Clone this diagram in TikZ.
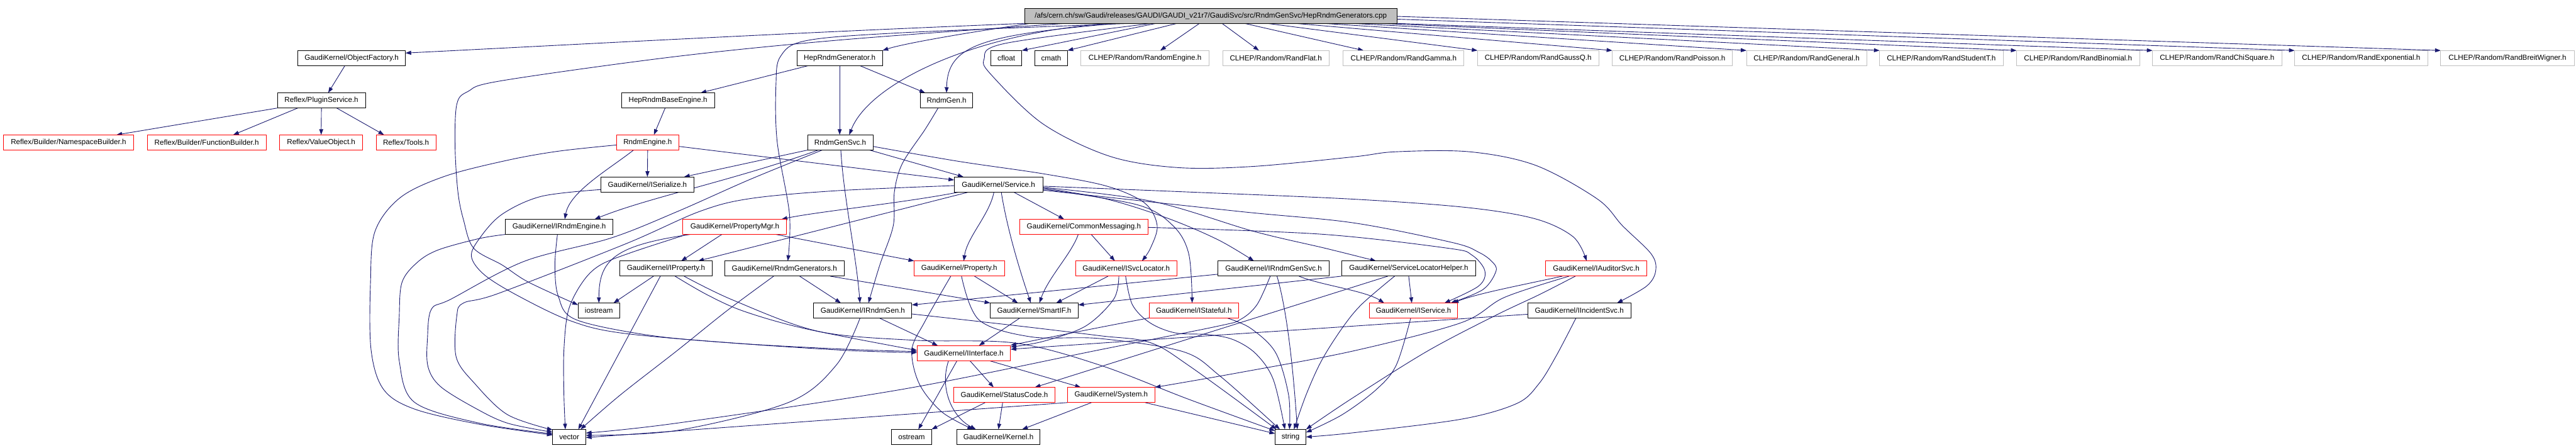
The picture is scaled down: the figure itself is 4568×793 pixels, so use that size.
\documentclass[tikz,border=0pt]{standalone}
\usepackage{fontspec}
\newfontfamily\lsans{Liberation Sans}
\usetikzlibrary{arrows.meta}
\definecolor{edgec}{HTML}{191970}
\definecolor{grayb}{HTML}{BFBFBF}
\definecolor{redb}{HTML}{FF0000}
\pgfdeclarelayer{bg}
\pgfsetlayers{bg,main}
\tikzset{
  nb/.style={draw=black, line width=1pt, minimum height=27pt, inner sep=0pt, outer sep=0pt,
             fill=white, font={\lsans\fontsize{13}{15}\selectfont}},
  nr/.style={nb, draw=redb},
  ng/.style={nb, draw=grayb},
  ed/.style={draw=edgec, line width=1pt, -{Triangle[length=10pt,width=7pt]}},
  sm/.style={smooth, tension=0.55}
}
\begin{document}
\begin{tikzpicture}[x=1pt,y=-1pt]
\useasboundingbox (0,0) rectangle (4568,793);
% ---------- nodes ----------
\node[nb, fill=grayb, minimum width=660pt] (root) at (2147,28) {/afs/cern.ch/sw/Gaudi/releases/GAUDI/GAUDI\_v21r7/GaudiSvc/src/RndmGenSvc/HepRndmGenerators.cpp};
% row 1
\node[nb, minimum width=191pt] (objf) at (623.5,103) {GaudiKernel/ObjectFactory.h};
\node[nb, minimum width=152pt] (heprg) at (1489,103) {HepRndmGenerator.h};
\node[nb, minimum width=55pt] (cfloat) at (1784.5,103) {cfloat};
\node[nb, minimum width=58pt] (cmath) at (1864,103) {cmath};
\node[ng, minimum width=227pt] (c1) at (2030.5,103) {CLHEP/Random/RandomEngine.h};
\node[ng, minimum width=189pt] (c2) at (2262.5,103) {CLHEP/Random/RandFlat.h};
\node[ng, minimum width=214pt] (c3) at (2489,103) {CLHEP/Random/RandGamma.h};
\node[ng, minimum width=215pt] (c4) at (2727.5,103) {CLHEP/Random/RandGaussQ.h};
\node[ng, minimum width=213pt] (c5) at (2965.5,103) {CLHEP/Random/RandPoisson.h};
\node[ng, minimum width=213pt] (c6) at (3203.5,103) {CLHEP/Random/RandGeneral.h};
\node[ng, minimum width=219pt] (c7) at (3442.5,103) {CLHEP/Random/RandStudentT.h};
\node[ng, minimum width=218pt] (c8) at (3685,103) {CLHEP/Random/RandBinomial.h};
\node[ng, minimum width=229pt] (c9) at (3931.5,103) {CLHEP/Random/RandChiSquare.h};
\node[ng, minimum width=236pt] (c10) at (4187,103) {CLHEP/Random/RandExponential.h};
\node[ng, minimum width=237pt] (c11) at (4446.5,103) {CLHEP/Random/RandBreitWigner.h};
% row 2
\node[nb, minimum width=156pt] (plugin) at (570,178) {Reflex/PluginService.h};
\node[nb, minimum width=165pt] (hepbase) at (1184.5,178) {HepRndmBaseEngine.h};
\node[nb, minimum width=93pt] (rndmgen) at (1678.5,178) {RndmGen.h};
% row 3
\node[nr, minimum width=231pt] (nsb) at (121.5,252.5) {Reflex/Builder/NamespaceBuilder.h};
\node[nr, minimum width=211pt] (fb) at (366.5,252.5) {Reflex/Builder/FunctionBuilder.h};
\node[nr, minimum width=147pt] (vo) at (569.5,252.5) {Reflex/ValueObject.h};
\node[nr, minimum width=106pt] (tools) at (720,252.5) {Reflex/Tools.h};
\node[nr, minimum width=111pt] (rengine) at (1148.5,252.5) {RndmEngine.h};
\node[nb, minimum width=116pt] (rgsvc) at (1490,252.5) {RndmGenSvc.h};
% row 4
\node[nb, minimum width=166pt] (iser) at (1148,327) {GaudiKernel/ISerialize.h};
\node[nb, minimum width=157pt] (service) at (1770.5,327) {GaudiKernel/Service.h};
% row 5
\node[nb, minimum width=191pt] (irengine) at (991.5,402) {GaudiKernel/IRndmEngine.h};
\node[nr, minimum width=184pt] (pmgr) at (1303,402) {GaudiKernel/PropertyMgr.h};
\node[nr, minimum width=228pt] (cmsg) at (1922,402) {GaudiKernel/CommonMessaging.h};
% row 6
\node[nb, minimum width=164pt] (iprop) at (1181,476) {GaudiKernel/IProperty.h};
\node[nb, minimum width=212pt] (rgens) at (1391,476) {GaudiKernel/RndmGenerators.h};
\node[nr, minimum width=160pt] (prop) at (1701,476) {GaudiKernel/Property.h};
\node[nr, minimum width=180pt] (isvcl) at (1997,476) {GaudiKernel/ISvcLocator.h};
\node[nb, minimum width=197pt] (irgsvc) at (2258.5,476) {GaudiKernel/IRndmGenSvc.h};
\node[nb, minimum width=238pt] (slh) at (2498,476) {GaudiKernel/ServiceLocatorHelper.h};
\node[nr, minimum width=179pt] (iaud) at (2830.5,476) {GaudiKernel/IAuditorSvc.h};
% row 7
\node[nb, minimum width=74pt] (iostream) at (1062,550.5) {iostream};
\node[nb, minimum width=174pt] (irgen) at (1530,550.5) {GaudiKernel/IRndmGen.h};
\node[nb, minimum width=156pt] (smartif) at (1834,550.5) {GaudiKernel/SmartIF.h};
\node[nr, minimum width=158pt] (istate) at (2117,550.5) {GaudiKernel/IStateful.h};
\node[nr, minimum width=157pt] (iservice) at (2506.5,550.5) {GaudiKernel/IService.h};
\node[nb, minimum width=183pt] (iinc) at (2800.5,550.5) {GaudiKernel/IIncidentSvc.h};
% row 8
\node[nr, minimum width=166pt] (iintf) at (1709,626) {GaudiKernel/IInterface.h};
% row 9
\node[nr, minimum width=180pt] (scode) at (1781,700) {GaudiKernel/StatusCode.h};
\node[nr, minimum width=155pt] (system) at (1970.5,700) {GaudiKernel/System.h};
% row 10
\node[nb, minimum width=59pt] (vector) at (1009.5,774.5) {vector};
\node[nb, minimum width=71pt] (ostream) at (1616.5,774.5) {ostream};
\node[nb, minimum width=147pt] (kernel) at (1770.5,774.5) {GaudiKernel/Kernel.h};
\node[nb, minimum width=55pt] (string) at (2288.5,774.5) {string};

\begin{pgfonlayer}{bg}
\fill[white] (0,0) rectangle (4568,793);
% ---------- root ----------
\draw[ed] (root.south west) .. controls (1400,58) and (1000,80) .. ([yshift=9]objf.east);
\draw[ed] ([xshift=-320]root.south) .. controls (1700,60) and (1600,78) .. (heprg.north east);
\draw[ed] ([xshift=-97]root.south) -- (cfloat.north east);
\draw[ed] ([xshift=-60]root.south) -- (cmath.north east);
\draw[ed] ([xshift=-20]root.south) -- ([xshift=27]c1.north);
\draw[ed] ([xshift=20]root.south) -- ([xshift=-30]c2.north);
\draw[ed] ([xshift=60]root.south) -- ([xshift=-71]c3.north);
\draw[ed] ([xshift=100]root.south) -- (c4.north west);
\draw[ed] ([xshift=150]root.south) -- (c5.north west);
\draw[ed] ([xshift=200]root.south) -- (c6.north west);
\draw[ed] ([xshift=250]root.south) -- (c7.north west);
\draw[ed] ([xshift=300]root.south) -- (c8.north west);
\draw[ed] (root.south east) -- (c9.north west);
\draw[ed] ([yshift=-6]root.east) -- (c10.north west);
\draw[ed] ([yshift=-1]root.east) -- (c11.north west);
\draw[ed] ([xshift=-182]root.south) .. controls (1720,60) and (1540,150) .. ([xshift=16]rgsvc.north);
\draw[ed] ([xshift=-166]root.south) .. controls (1740,62) and (1680,80) .. (rndmgen.north);
\draw[ed] plot[sm] coordinates {([xshift=-144]root.south) (1600,58) (1430,72) (1384,100) (1376,150) (1378,250) (1400,380) ([xshift=6]rgens.north)};
\draw[ed] plot[sm] coordinates {([xshift=-258]root.south) (1500,70) (1200,100) (890,143) (830,162) (810,185) (807,260) (812,340) (822,390) (840,440) (891,470) (937,500) ([yshift=10]iostream.west)};
\draw[ed] plot[sm] coordinates {([xshift=-105]root.south) (1782,77) (1745,105) (1760,135) (1850,220) (1968,277) (2088,297) (2222,295) (2400,278) (2475,269) (2606,269) (2723,293) (2833,353) (2877,400) (2928,450) (2936,480) (2920,507) ([xshift=67]iinc.north)};
% ---------- upper part ----------
\draw[ed] ([xshift=-12]objf.south) -- ([xshift=12]plugin.north);
\draw[ed] (plugin.south west) -- ([xshift=85]nsb.north);
\draw[ed] ([xshift=-42]plugin.south) -- ([xshift=47]fb.north);
\draw[ed] (plugin.south) -- (vo.north);
\draw[ed] ([xshift=27]plugin.south) -- ([xshift=-39]tools.north);
\draw[ed] ([xshift=-56]heprg.south) -- ([xshift=58]hepbase.north);
\draw[ed] (heprg.south) -- ([xshift=-1]rgsvc.north);
\draw[ed] ([xshift=36]heprg.south) -- ([xshift=-38]rndmgen.north);
\draw[ed] ([xshift=-5]hepbase.south) -- ([xshift=11]rengine.north);
\draw[ed] plot[sm] coordinates {([xshift=-15]rndmgen.south) (1640,230) (1600,290) (1586,340) (1584,400) (1560,470) ([xshift=10]irgen.north)};
% RndmEngine
\draw[ed] (rengine.south) -- (iser.north);
\draw[ed] ([xshift=-25]rengine.south) .. controls (1080,300) and (1010,340) .. ([xshift=10]irengine.north);
\draw[ed] ([yshift=-7]rengine.east) -- ([yshift=8]service.west);
\draw[ed] plot[sm] coordinates {([yshift=-4.5]rengine.west) (990,268) (900,284) (790,312) (710,350) (665,410) (657,500) (658,620) (680,690) (735,725) (850,752) ([yshift=3.5]vector.west)};
% ISerialize, IRndmEngine
\draw[ed] plot[sm] coordinates {([yshift=-9]iser.west) (960,348) (890,380) (850,423) (836,455) (860,488) (920,525) (1010,568) (1100,590) (1300,608) (1500,619) ([yshift=3]iintf.west)};
\draw[ed] plot[sm] coordinates {([xshift=-3]irengine.south) (984,470) (990,525) (1020,566) (1150,594) (1300,608) (1500,621) ([yshift=1]iintf.west)};
\draw[ed] plot[sm] coordinates {(irengine.south west) (849,423) (777,443) (740,465) (713,500) (708,560) (708,640) (735,713) (850,750) ([yshift=5.5]vector.west)};
% RndmGenSvc
\draw[ed] (rgsvc.south west) -- ([xshift=65]iser.north);
\draw[ed] ([xshift=-39]rgsvc.south) .. controls (1300,320) and (1150,350) .. ([xshift=63]irengine.north);
\draw[ed] plot[sm] coordinates {([xshift=-32]rgsvc.south) (1330,318) (1201,375) (1083,422) (930,463) (800,530) (765,548) (758,600) (759,650) (781,685) (842,723) (900,750) ([yshift=8.5]vector.west)};
\draw[ed] ([xshift=1]rgsvc.south) .. controls (1496,350) and (1518,450) .. ([xshift=-5]irgen.north);
\draw[ed] ([xshift=52]rgsvc.south) -- ([xshift=-62]service.north);
\draw[ed] plot[sm] coordinates {([yshift=-7]rgsvc.east) (1700,286) (1850,308) (1963,330) (2030,360) (2052,400) (2040,440) ([xshift=28]isvcl.north)};
% Service
\draw[ed] ([xshift=-70]service.south) .. controls (1600,360) and (1450,375) .. ([xshift=83]pmgr.north);
\draw[ed] ([xshift=-53]service.south) -- ([xshift=57]iprop.north);
\draw[ed] plot[sm] coordinates {([yshift=-2]service.west) (1484,338) (1330,352) (1240,375) (1110,432) (884,520) (822,537) (810,560) (809,633) (842,680) (900,735) ([yshift=12.5]vector.west)};
\draw[ed] ([xshift=27]service.south) -- ([xshift=-35]cmsg.north);
\draw[ed] ([xshift=-8]service.south) .. controls (1755,380) and (1715,420) .. ([xshift=8]prop.north);
\draw[ed] ([xshift=5]service.south) .. controls (1785,400) and (1805,470) .. ([xshift=-6]smartif.north);
\draw[ed] plot[sm] coordinates {([yshift=-6]service.east) (1963,353) (2071,387) (2160,425) ([xshift=-35]irgsvc.north)};
\draw[ed] plot[sm] coordinates {([yshift=-5]service.east) (2044,357) (2223,410) (2350,440) ([xshift=-58]slh.north)};
\draw[ed] plot[sm] coordinates {([yshift=-8]service.east) (2017,363) (2080,400) (2108,450) ([xshift=-3]istate.north)};
\draw[ed] plot[sm] coordinates {([yshift=-10]service.east) (2200,375) (2400,395) (2576,430) (2622,447) (2645,463) (2653,480) (2630,513) ([xshift=66]iservice.north)};
\draw[ed] plot[sm] coordinates {([yshift=-3]service.east) (2100,340) (2400,353) (2603,368) (2723,388) (2790,420) ([xshift=-17]iaud.north)};
% CommonMessaging
\draw[ed] ([xshift=-10]cmsg.south) .. controls (1900,450) and (1860,490) .. ([xshift=9]smartif.north);
\draw[ed] ([xshift=13]cmsg.south) -- ([xshift=-20]isvcl.north);
\draw[ed] plot[sm] coordinates {([yshift=-1]cmsg.east) (2342,415) (2568,440) (2610,452) (2633,480) (2622,507) ([xshift=55]iservice.north)};
% PropertyMgr
\draw[ed] ([xshift=-23]pmgr.south) -- ([xshift=27]iprop.north);
\draw[ed] ([xshift=73]pmgr.south) -- (prop.north west);
\draw[ed] ([xshift=-79]pmgr.south) .. controls (1090,435) and (1062,460) .. (iostream.north);
\draw[ed] plot[sm] coordinates {([xshift=-85]pmgr.south) (1121,447) (1064,470) (1033,500) (1008,550) (1000,620) (1000,700) ([xshift=-7]vector.north)};
% IProperty
\draw[ed] ([xshift=-22]iprop.south) -- ([xshift=26]iostream.north);
\draw[ed] ([xshift=-10]iprop.south) -- ([xshift=16]vector.north);
\draw[ed] plot[sm] coordinates {([xshift=16]iprop.south) (1255,523) (1320,552) (1430,583) ([yshift=5]iintf.west)};
\draw[ed] plot[sm] coordinates {([xshift=32]iprop.south) (1300,532) (1450,587) (1620,603) (1800,608) (1950,647) (2106,707) ([yshift=11]string.west)};
% RndmGenerators
\draw[ed] ([xshift=27]rgens.south) -- ([xshift=-39]irgen.north);
\draw[ed] ([xshift=81]rgens.south) -- (smartif.north west);
\draw[ed] plot[sm] coordinates {([xshift=-19]rgens.south) (1290,550) (1200,622) (1100,700) ([xshift=20]vector.north)};
% Property
\draw[ed] ([xshift=27]prop.south) -- ([xshift=-29]smartif.north);
\draw[ed] plot[sm] coordinates {([xshift=-15]prop.south) (1640,570) (1617,620) (1630,680) (1670,730) ([xshift=-45]kernel.north)};
\draw[ed] plot[sm] coordinates {([xshift=4]prop.south) (1736,567) (1828,597) (1950,600) (2097,623) (2164,667) ([xshift=-19]string.north)};
% ISvcLocator
\draw[ed] ([xshift=-32]isvcl.south) -- ([xshift=39]smartif.north);
\draw[ed] plot[sm] coordinates {([xshift=-13]isvcl.south) (1975,530) (1925,578) (1850,605) ([yshift=11]iintf.east)};
\draw[ed] plot[sm] coordinates {([xshift=-1]isvcl.south) (2008,540) (2039,572) (2084,590) (2142,593) (2187,602) (2227,627) (2258,673) ([xshift=-10]string.north)};
% IRndmGenSvc
\draw[ed] ([yshift=-10]irgsvc.west) -- ([yshift=10]irgen.east);
\draw[ed] ([xshift=45]irgsvc.south) .. controls (2340,505) and (2420,515) .. ([xshift=-52]iservice.north);
\draw[ed] ([xshift=6]irgsvc.south) .. controls (2285,560) and (2295,680) .. ([xshift=12]string.north);
\draw[ed] plot[sm] coordinates {([xshift=-6]irgsvc.south) (2229,540) (2200,566) (2160,578) (1950,620) (1600,690) (1200,750) ([yshift=7]vector.east)};
% ServiceLocatorHelper
\draw[ed] (slh.south west) -- ([yshift=10]smartif.east);
\draw[ed] (slh.south) -- ([xshift=-3]iservice.north);
\draw[ed] ([xshift=-37]slh.south) -- ([xshift=54]scode.north);
\draw[ed] plot[sm] coordinates {([xshift=-25]slh.south) (2414,540) (2379,583) (2343,640) (2316,700) ([xshift=6]string.north)};
% IAuditorSvc
\draw[ed] ([xshift=-60]iaud.south) .. controls (2700,505) and (2620,520) .. ([xshift=70]iservice.north);
\draw[ed] plot[sm] coordinates {([xshift=-48]iaud.south) (2668,527) (2591,572) (2400,622) (2200,660) (system.north east)};
\draw[ed] plot[sm] coordinates {([xshift=-37]iaud.south) (2730,522) (2650,560) (2530,623) (2396,707) (string.north east)};
% IIncidentSvc, IService, IStateful
\draw[ed] plot[sm] coordinates {([yshift=-6.5]iinc.west) (2400,578) (2100,598) ([yshift=7]iintf.east)};
\draw[ed] plot[sm] coordinates {([xshift=-6]iinc.south) (2760,630) (2729,680) (2690,715) (2591,743) (2400,767) (string.east)};
\draw[ed] plot[sm] coordinates {([xshift=-5]iservice.south) (2476,647) (2441,690) (2380,735) ([yshift=8]string.east)};
\draw[ed] ([yshift=-13]istate.west) .. controls (1950,580) and (1850,600) .. ([yshift=14]iintf.east);
\draw[ed] plot[sm] coordinates {([xshift=60]istate.south) (2218,582) (2262,625) (2285,700) ([xshift=-2]string.north)};
% IRndmGen, SmartIF
\draw[ed] ([xshift=30]irgen.south) -- ([xshift=-46]iintf.north);
\draw[ed] plot[sm] coordinates {([xshift=-5]irgen.south) (1483,647) (1399,713) (1200,763) ([yshift=3]vector.east)};
\draw[ed] plot[sm] coordinates {([yshift=-6]irgen.east) (1800,577) (1950,595) (2039,607) (2111,650) ([xshift=-25]string.north)};
\draw[ed] ([xshift=-26]smartif.south) -- ([xshift=27]iintf.north);
% IInterface
\draw[ed] ([xshift=-12]iintf.south) -- ([xshift=12]ostream.north);
\draw[ed] ([xshift=-27]iintf.south) .. controls (1665,690) and (1690,740) .. ([xshift=-40]kernel.north);
\draw[ed] ([xshift=11]iintf.south) -- ([xshift=-19]scode.north);
\draw[ed] ([xshift=46]iintf.south) -- ([xshift=-54]system.north);
% StatusCode, System
\draw[ed] ([xshift=-34]scode.south) -- (ostream.north east);
\draw[ed] ([xshift=-3]scode.south) -- (kernel.north);
\draw[ed] ([xshift=-35]system.south) -- ([xshift=42]kernel.north);
\draw[ed] ([xshift=60]system.south) -- ([yshift=6]string.west);
\draw[ed] (system.south west) -- ([yshift=-1]vector.east);
\end{pgfonlayer}
\end{tikzpicture}
\end{document}
